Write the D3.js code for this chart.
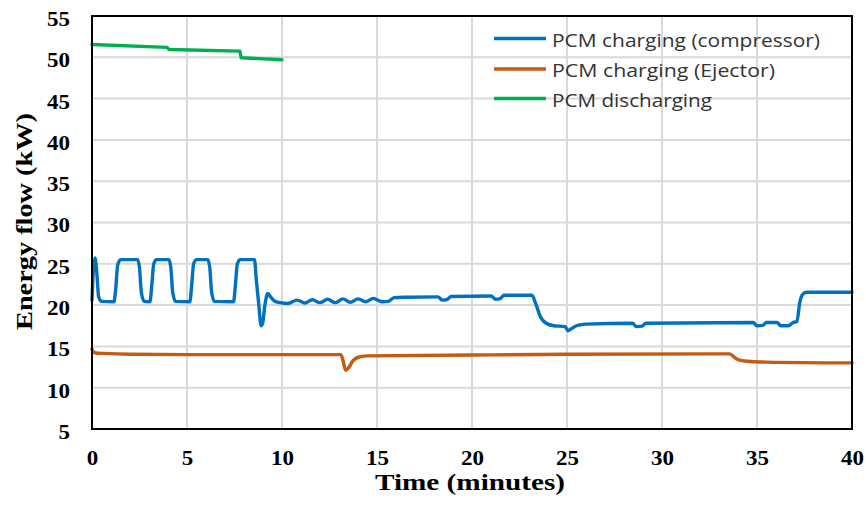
<!DOCTYPE html>
<html>
<head>
<meta charset="utf-8">
<script src="https://cdn.jsdelivr.net/npm/d3@7"></script>
<style>
  html, body { margin: 0; padding: 0; background: #fff; }
  svg { display: block; }
</style>
</head>
<body>
<svg id="chart" width="866" height="513"></svg>
<script>
// ---- Data ----
const xTicks = [0, 5, 10, 15, 20, 25, 30, 35, 40];
const yTicks = [5, 10, 15, 20, 25, 30, 35, 40, 45, 50, 55];
const seriesNames = ["PCM charging (compressor)", "PCM charging (Ejector)", "PCM discharging"];

const compressorTime = [0,0.08,0.16,0.25,0.35,0.5,1.15,1.25,1.35,1.5,2.4,2.5,2.6,2.75,3.05,3.15,3.25,3.4,4.05,4.15,4.25,4.4,5.15,5.25,5.35,5.5,6.1,6.2,6.3,6.45,7.45,7.55,7.65,7.8,8.55,8.65,8.78,8.9,8.98,9.1,9.25,9.4,9.6,9.9,10.3,10.8,11.2,11.6,12.0,12.4,12.8,13.2,13.6,14.0,14.4,14.8,15.3,15.6,15.9,16.5,18.2,18.45,18.7,18.9,21.0,21.25,21.45,21.7,23.15,23.35,23.6,23.9,24.3,24.9,25.05,25.2,25.5,26,28.45,28.65,28.95,29.15,34.8,35.0,35.3,35.5,36.05,36.25,36.65,36.9,37.1,37.25,37.4,37.6,40];
const compressorValue = [20.6,24.5,25.7,24,21,20.45,20.4,22,24.8,25.5,25.5,24.5,21.5,20.45,20.4,22.5,25,25.5,25.5,24.5,21.5,20.45,20.4,22.5,25,25.5,25.5,24.5,21.5,20.45,20.4,22.5,25,25.5,25.5,23,20,17.5,17.8,20,21.4,21,20.5,20.3,20.2,20.6,20.25,20.65,20.3,20.7,20.3,20.75,20.35,20.75,20.4,20.8,20.4,20.45,20.9,20.95,21.0,20.6,20.7,21.05,21.1,20.7,20.75,21.2,21.2,20.2,18.6,17.8,17.5,17.4,16.9,17.1,17.5,17.7,17.8,17.4,17.45,17.8,17.9,17.5,17.55,17.9,17.9,17.5,17.5,17.9,18.0,20.3,21.3,21.55,21.55];

const ejectorTime = [0,0.05,0.2,0.6,2,5,13.1,13.2,13.35,13.5,13.75,14.1,14.5,20,25,33.55,33.75,34.0,34.5,35.5,40];
const ejectorValue = [14.7,14.4,14.2,14.15,14.05,14.0,14.0,13.4,12.1,12.4,13.3,13.75,13.85,13.95,14.05,14.1,13.8,13.4,13.2,13.1,13.0];

const dischargeTime = [0,3.95,4.05,7.78,7.85,10];
const dischargeValue = [51.55,51.2,50.95,50.75,49.95,49.7];

// ---- Layout ----
const svg = d3.select("#chart");
const plot = { left: 92, right: 852, top: 16, bottom: 429 };
const colors = ["#0070C0", "#C55A11", "#00B050"];

const x = d3.scaleLinear().domain([0, 40]).range([plot.left, plot.right]);
const y = d3.scaleLinear().domain([5, 55]).range([plot.bottom, plot.top]);

// gridlines
const grid = svg.append("g");
grid.selectAll("line.gy").data(yTicks).join("line")
  .attr("x1", plot.left).attr("x2", plot.right)
  .attr("y1", d => y(d)).attr("y2", d => y(d))
  .attr("stroke", "#d9d9d9").attr("stroke-width", 2);
grid.selectAll("line.gx").data(xTicks).join("line")
  .attr("y1", plot.top).attr("y2", plot.bottom)
  .attr("x1", d => x(d)).attr("x2", d => x(d))
  .attr("stroke", "#d9d9d9").attr("stroke-width", 2);

// series lines
const seriesData = [
  d3.zip(compressorTime, compressorValue),
  d3.zip(ejectorTime, ejectorValue),
  d3.zip(dischargeTime, dischargeValue)
];
const curves = [d3.curveMonotoneX, d3.curveMonotoneX, d3.curveLinear];
seriesData.forEach((pts, i) => {
  const line = d3.line().x(d => x(d[0])).y(d => y(d[1])).curve(curves[i]);
  svg.append("path").datum(pts)
    .attr("d", line)
    .attr("fill", "none")
    .attr("stroke", colors[i])
    .attr("stroke-width", 3.4)
    .attr("stroke-linejoin", "round")
    .attr("stroke-linecap", "round");
});

// plot frame
svg.append("rect")
  .attr("x", plot.left).attr("y", plot.top)
  .attr("width", plot.right - plot.left).attr("height", plot.bottom - plot.top)
  .attr("fill", "none").attr("stroke", "#000").attr("stroke-width", 2);

// axes (labels only, using d3 axes)
const serif = "'Liberation Serif', 'Times New Roman', serif";
const stretch = 1.15;

const yAxis = svg.append("g")
  .attr("transform", `translate(${plot.left},0)`)
  .call(d3.axisLeft(y).tickValues(yTicks).tickSize(0).tickPadding(22).tickFormat(d3.format("d")));
yAxis.select(".domain").remove();
yAxis.selectAll("text")
  .attr("font-family", serif).attr("font-weight", "bold").attr("font-size", 20)
  .attr("fill", "#000").attr("dy", "0.37em")
  .attr("transform", "translate(0,2)");

const xAxis = svg.append("g")
  .attr("transform", `translate(0,${plot.bottom})`)
  .call(d3.axisBottom(x).tickValues(xTicks).tickSize(0).tickPadding(22).tickFormat(d3.format("d")));
xAxis.select(".domain").remove();
xAxis.selectAll("text")
  .attr("font-family", serif).attr("font-weight", "bold").attr("font-size", 20)
  .attr("fill", "#000").attr("dy", "0.71em");

// stretch tick labels horizontally like the reference
svg.selectAll(".tick text").each(function() {
  const w = this.getComputedTextLength();
  d3.select(this).attr("textLength", w * stretch).attr("lengthAdjust", "spacingAndGlyphs");
});

// axis titles
svg.append("text")
  .attr("x", 470).attr("y", 490)
  .attr("text-anchor", "middle")
  .attr("font-family", serif).attr("font-weight", "bold").attr("font-size", 24)
  .attr("textLength", 190).attr("lengthAdjust", "spacingAndGlyphs")
  .text("Time (minutes)");

svg.append("text")
  .attr("transform", "translate(32,221.5) rotate(-90)")
  .attr("text-anchor", "middle")
  .attr("font-family", serif).attr("font-weight", "bold").attr("font-size", 24)
  .attr("textLength", 217).attr("lengthAdjust", "spacingAndGlyphs")
  .text("Energy flow (kW)");

// legend
const legendY = [38.5, 69, 98.5];
const legendW = [268, 223, 160];
const legend = svg.append("g");
seriesNames.forEach((name, i) => {
  legend.append("line")
    .attr("x1", 494).attr("x2", 546)
    .attr("y1", legendY[i]).attr("y2", legendY[i])
    .attr("stroke", colors[i]).attr("stroke-width", 3.4);
  legend.append("text")
    .attr("x", 552).attr("y", legendY[i] + 8)
    .attr("font-family", "'Open Sans', 'Noto Sans', sans-serif")
    .attr("font-size", 19)
    .attr("fill", "#333")
    .attr("textLength", legendW[i]).attr("lengthAdjust", "spacingAndGlyphs")
    .text(name);
});
</script>
</body>
</html>
